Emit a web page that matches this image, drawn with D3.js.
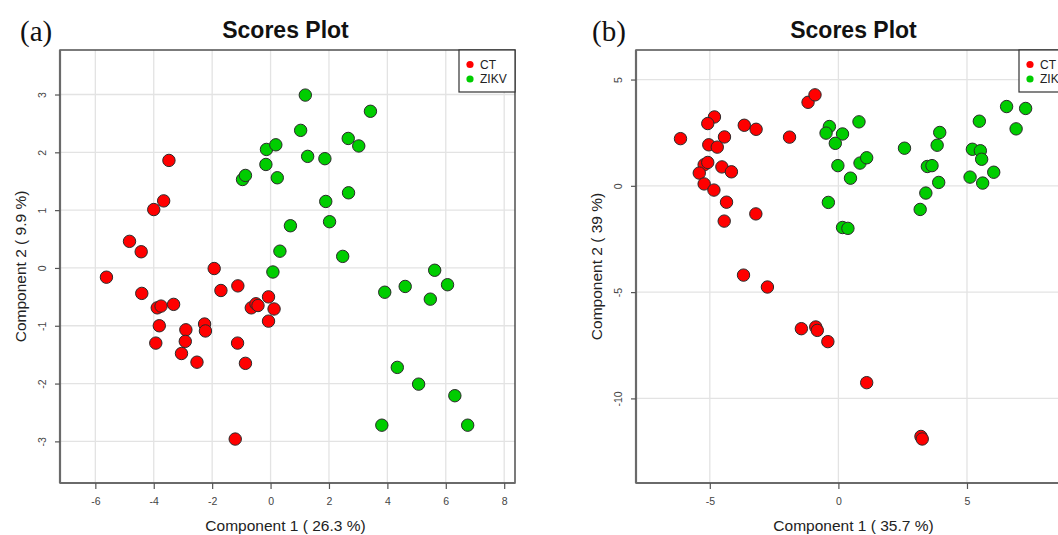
<!DOCTYPE html>
<html>
<head>
<meta charset="utf-8">
<script src="https://cdn.jsdelivr.net/npm/d3@7"></script>
<style>
  body { margin: 0; background: #fff; overflow: hidden; }
  svg { display: block; }
</style>
</head>
<body>
<svg id="chart"></svg>
<script>
// page size
const width = 1058, height = 535;

// ---- data ----
// panel (a): component 1 vs component 2
const ctScoresA = [
  [-3.48, 1.86], [-3.66, 1.16], [-4.00, 1.01], [-4.83, 0.46], [-4.43, 0.28],
  [-5.62, -0.16], [-1.93, -0.01], [-4.41, -0.44], [-1.70, -0.39], [-1.12, -0.31],
  [-3.88, -0.69], [-3.75, -0.66], [-3.32, -0.63], [-3.81, -1.00], [-3.93, -1.30],
  [-2.90, -1.07], [-2.92, -1.27], [-3.05, -1.48], [-2.52, -1.63], [-2.26, -0.97],
  [-2.23, -1.09], [-0.66, -0.69], [-0.50, -0.62], [-0.43, -0.65], [-1.13, -1.30],
  [-0.86, -1.65], [-1.21, -2.96], [-0.07, -0.50], [-0.07, -0.92], [0.12, -0.71]
];
const zikvScoresA = [
  [-0.14, 2.05], [-0.16, 1.79], [-0.96, 1.53], [-0.86, 1.60], [1.19, 2.99],
  [3.42, 2.71], [1.03, 2.38], [2.66, 2.24], [3.02, 2.11], [0.18, 2.13],
  [1.27, 1.93], [1.86, 1.89], [0.23, 1.56], [2.67, 1.30], [1.89, 1.15],
  [2.02, 0.80], [0.68, 0.73], [0.32, 0.29], [2.47, 0.20], [0.08, -0.07],
  [5.62, -0.04], [6.06, -0.29], [4.61, -0.32], [3.91, -0.42], [5.47, -0.54],
  [4.34, -1.72], [5.07, -2.01], [6.31, -2.21], [3.81, -2.72], [6.75, -2.72]
];
// panel (b)
const ctScoresB = [
  [-6.14, 2.22], [-4.82, 3.24], [-5.08, 2.93], [-4.43, 2.30], [-5.04, 1.93],
  [-4.71, 1.82], [-3.66, 2.85], [-3.20, 2.66], [-1.90, 2.29], [-1.18, 3.93],
  [-0.91, 4.28], [-5.22, 0.99], [-5.08, 1.10], [-4.53, 0.89], [-4.16, 0.66],
  [-5.41, 0.60], [-5.22, 0.09], [-4.84, -0.20], [-4.35, -0.77], [-4.44, -1.66],
  [-3.21, -1.32], [-3.69, -4.20], [-2.76, -4.76], [-1.44, -6.72], [-0.88, -6.64],
  [-0.82, -6.80], [-0.41, -7.33], [1.10, -9.26], [3.21, -11.79], [3.26, -11.91]
];
const zikvScoresB = [
  [-0.35, 2.79], [-0.48, 2.48], [0.16, 2.44], [0.80, 3.01], [-0.12, 2.00],
  [-0.02, 0.95], [0.84, 1.07], [1.10, 1.32], [0.47, 0.36], [-0.39, -0.78],
  [0.16, -1.96], [0.37, -2.00], [2.57, 1.77], [3.94, 2.51], [3.84, 1.91],
  [3.46, 0.91], [3.64, 0.95], [3.90, 0.16], [3.40, -0.34], [3.18, -1.11],
  [5.48, 3.04], [5.21, 1.72], [5.52, 1.65], [5.57, 1.25], [5.12, 0.41],
  [5.61, 0.13], [6.04, 0.64], [6.54, 3.73], [7.28, 3.64], [6.91, 2.68]
];

const groups = ["CT", "ZIKV"];
const xTicksA = [-6, -4, -2, 0, 2, 4, 6, 8];
const yTicksA = [-3, -2, -1, 0, 1, 2, 3];
const xTicksB = [-5, 0, 5];
const yTicksB = [-10, -5, 0, 5];

const groupColors = ["#ff0000", "#00cd00"];
const fontSans = "'Liberation Sans', Arial, sans-serif";

let svg = d3.select("#chart")
  .attr("width", width)
  .attr("height", height);

// plain hyphen minus, like R
const fmt = d => String(d);

function drawPanel(opts) {
  const g = svg.append("g");
  const x = d3.scaleLinear().domain(opts.xDomain).range([opts.left, opts.right]);
  const y = d3.scaleLinear().domain(opts.yDomain).range([opts.bottom, opts.top]);
  const cx = (opts.left + opts.right) / 2 - 2;
  const cy = (opts.top + opts.bottom) / 2;

  // grid
  g.selectAll(".gx").data(opts.xTicks).enter().append("line")
    .attr("x1", d => x(d)).attr("x2", d => x(d))
    .attr("y1", opts.top).attr("y2", opts.bottom)
    .attr("stroke", "#e3e3e3").attr("stroke-width", 1.3);
  g.selectAll(".gy").data(opts.yTicks).enter().append("line")
    .attr("x1", opts.left).attr("x2", opts.right)
    .attr("y1", d => y(d)).attr("y2", d => y(d))
    .attr("stroke", "#e3e3e3").attr("stroke-width", 1.3);

  // frame
  g.append("rect")
    .attr("x", opts.left).attr("y", opts.top)
    .attr("width", opts.right - opts.left).attr("height", opts.bottom - opts.top)
    .attr("fill", "none").attr("stroke", "#444").attr("stroke-width", 1.4);

  // axes (R style: outward ticks, rotated y labels)
  const xAxis = d3.axisBottom(x).tickValues(opts.xTicks).tickFormat(fmt).tickSize(6).tickPadding(9);
  const ax = g.append("g").attr("transform", "translate(0," + opts.bottom + ")").call(xAxis);
  const yAxis = d3.axisLeft(y).tickValues(opts.yTicks).tickFormat(fmt).tickSize(5);
  const ay = g.append("g").attr("transform", "translate(" + opts.left + ",0)").call(yAxis);
  [ax, ay].forEach(a => {
    a.select(".domain").attr("stroke", "#6a6a6a").attr("stroke-width", 2.2);
    a.selectAll(".tick line").attr("stroke", "#555").attr("stroke-width", 1.2);
    a.selectAll("text").attr("fill", "#444").style("font-family", fontSans).style("font-size", "10.5px");
  });
  ax.select(".domain").attr("d", "M" + opts.left + ",0H" + opts.right);
  ay.select(".domain").attr("d", "M0," + opts.top + "V" + opts.bottom);
  ay.selectAll(".tick text")
    .attr("x", null).attr("dy", null)
    .attr("text-anchor", "middle")
    .attr("transform", "translate(-18,0) rotate(-90)")
    .attr("dy", "0.35em");

  // points
  const sets = [opts.ct, opts.zikv];
  sets.forEach((set, i) => {
    g.append("g").selectAll("circle").data(set).enter().append("circle")
      .attr("cx", d => x(d[0])).attr("cy", d => y(d[1]))
      .attr("r", 6.2)
      .attr("fill", groupColors[i])
      .attr("stroke", "#2a2a2a").attr("stroke-width", 1);
  });

  // legend
  const lx = opts.right - 56;
  g.append("rect")
    .attr("x", lx).attr("y", opts.top)
    .attr("width", 56).attr("height", 42)
    .attr("fill", "#fff").attr("stroke", "#333").attr("stroke-width", 1.2);
  groups.forEach((name, i) => {
    g.append("circle")
      .attr("cx", lx + 11).attr("cy", opts.top + 14.5 + i * 14.5)
      .attr("r", 3.6).attr("fill", groupColors[i]);
    g.append("text")
      .attr("x", lx + 21).attr("y", opts.top + 14.5 + i * 14.5)
      .attr("dy", "0.36em")
      .style("font-family", fontSans).style("font-size", "12px")
      .attr("fill", "#222")
      .text(name);
  });

  // titles
  g.append("text")
    .attr("x", cx).attr("y", 38)
    .attr("text-anchor", "middle")
    .style("font-family", fontSans).style("font-size", "23px").style("font-weight", "bold")
    .attr("fill", "#111")
    .text("Scores Plot");
  g.append("text")
    .attr("x", cx).attr("y", 531)
    .attr("text-anchor", "middle")
    .style("font-family", fontSans).style("font-size", "15.5px")
    .attr("fill", "#222")
    .text(opts.xLabel);
  g.append("text")
    .attr("transform", "translate(" + (opts.left - 34) + "," + cy + ") rotate(-90)")
    .attr("text-anchor", "middle")
    .style("font-family", fontSans).style("font-size", "15.5px")
    .attr("fill", "#222")
    .text(opts.yLabel);

  // panel letter
  svg.append("text")
    .attr("x", opts.tagX).attr("y", 41)
    .style("font-family", "'Liberation Serif', 'Times New Roman', serif")
    .style("font-size", "29px")
    .attr("fill", "#111")
    .text(opts.tag);
}

drawPanel({
  left: 60, right: 515, top: 50, bottom: 483,
  xDomain: [-7.21, 8.37], yDomain: [-3.72, 3.77],
  xTicks: xTicksA, yTicks: yTicksA,
  ct: ctScoresA, zikv: zikvScoresA,
  xLabel: "Component 1 ( 26.3 %)", yLabel: "Component 2 ( 9.9 %)",
  tag: "(a)", tagX: 20
});

drawPanel({
  left: 636, right: 1075, top: 50, bottom: 483,
  xDomain: [-7.87, 9.2], yDomain: [-13.98, 6.39],
  xTicks: xTicksB, yTicks: yTicksB,
  ct: ctScoresB, zikv: zikvScoresB,
  xLabel: "Component 1 ( 35.7 %)", yLabel: "Component 2 ( 39 %)",
  tag: "(b)", tagX: 592
});
</script>
</body>
</html>
